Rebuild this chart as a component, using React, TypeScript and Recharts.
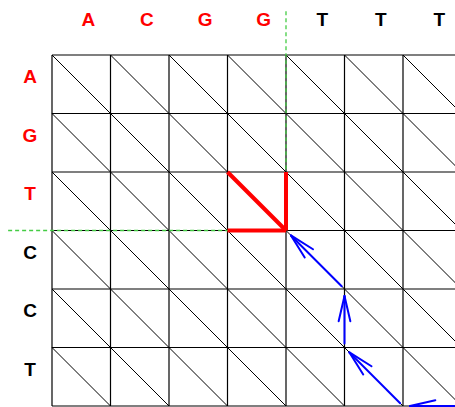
import { ComposedChart, XAxis, YAxis, ReferenceLine } from "recharts";

// sequences along the top and down the left side
const topSeq = ["A", "C", "G", "G", "T", "T", "T"];
const topRed = [true, true, true, true, false, false, false];
const leftSeq = ["A", "G", "T", "C", "C", "T"];
const leftRed = [true, true, true, false, false, false];

// red best-score step (grid nodes)
const redMoves = [
  { x1: 3, y1: 2, x2: 4, y2: 3 },
  { x1: 4, y1: 2, x2: 4, y2: 3 },
  { x1: 3, y1: 3, x2: 4, y2: 3 },
];

// blue traceback, node by node
const tracePath = [
  { x: 7, y: 6 },
  { x: 6, y: 6 },
  { x: 5, y: 5 },
  { x: 5, y: 4 },
  { x: 4, y: 3 },
];

// green guide lines through the split node
const splitNode = { x: 4, y: 3 };
const guideOverhang = 0.75;

const cols = topSeq.length;
const rows = leftSeq.length;
const colLines = Array.from({ length: cols + 1 }, (_, i) => i);
const rowLines = Array.from({ length: rows + 1 }, (_, i) => i);
const cells: { c: number; r: number }[] = [];
for (let r = 0; r < rows; r++) for (let c = 0; c < cols; c++) cells.push({ c, r });

const RED = "#ff0000";
const BLUE = "#0000ff";
const GREEN = "#44cc44";
const FONT = "'Liberation Sans', Arial, sans-serif";

const TopTick = (props: any) => {
  const i = props.index;
  return (
    <text x={props.x + 7} y={26} textAnchor="middle" fontFamily={FONT} fontWeight="bold" fontSize={19}
      fill={topRed[i] ? RED : "#000"}>
      {topSeq[i]}
    </text>
  );
};

const LeftTick = (props: any) => {
  const i = props.index;
  return (
    <text x={30} y={props.y - 1} textAnchor="middle" fontFamily={FONT} fontWeight="bold" fontSize={19}
      fill={leftRed[i] ? RED : "#000"}>
      {leftSeq[i]}
    </text>
  );
};

const Arrow = (props: any) => {
  const { x1, y1, x2, y2 } = props;
  const dx = x2 - x1;
  const dy = y2 - y1;
  const len = Math.sqrt(dx * dx + dy * dy) || 1;
  const ux = dx / len;
  const uy = dy / len;
  const sx = x1 + ux * 4;
  const sy = y1 + uy * 4;
  const tx = x2 - ux * 7;
  const ty = y2 - uy * 7;
  const head = 26;
  const a = (13 * Math.PI) / 180;
  const back = Math.atan2(-uy, -ux);
  const h1x = tx + head * Math.cos(back + a);
  const h1y = ty + head * Math.sin(back + a);
  const h2x = tx + head * Math.cos(back - a);
  const h2y = ty + head * Math.sin(back - a);
  return (
    <g stroke={BLUE} strokeWidth={2} fill="none" strokeLinecap="round">
      <line x1={sx} y1={sy} x2={tx} y2={ty} />
      <line x1={tx} y1={ty} x2={h1x} y2={h1y} />
      <line x1={tx} y1={ty} x2={h2x} y2={h2y} />
    </g>
  );
};

export default function App() {
  return (
    <div style={{ position: "absolute", left: 0, top: 0, width: 455, height: 407, overflow: "hidden" }}>
      <ComposedChart width={461.5} height={407} data={cells} margin={{ top: 0, left: 0, right: 0, bottom: 1 }}>
        <XAxis type="number" dataKey="c" orientation="top" domain={[0, cols]} height={55}
          ticks={topSeq.map((_, i) => i + 0.5)} interval={0} axisLine={false} tickLine={false} tick={<TopTick />} />
        <YAxis type="number" dataKey="r" domain={[0, rows]} reversed width={52}
          ticks={leftSeq.map((_, i) => i + 0.5)} interval={0} axisLine={false} tickLine={false} tick={<LeftTick />} />

        {cells.map(({ c, r }) => (
          <ReferenceLine key={`d${c}-${r}`} segment={[{ x: c, y: r }, { x: c + 1, y: r + 1 }]}
            stroke="#000" strokeWidth={1} ifOverflow="visible" />
        ))}
        {colLines.map((c) => (
          <ReferenceLine key={`c${c}`} x={c} stroke="#000" strokeWidth={1.2} ifOverflow="visible" />
        ))}
        {rowLines.map((r) => (
          <ReferenceLine key={`r${r}`} y={r} stroke="#000" strokeWidth={1.2} ifOverflow="visible" />
        ))}

        <ReferenceLine segment={[{ x: splitNode.x, y: -guideOverhang }, { x: splitNode.x, y: splitNode.y }]}
          stroke={GREEN} strokeWidth={1.3} strokeDasharray="4 3" ifOverflow="visible" />
        <ReferenceLine segment={[{ x: -guideOverhang, y: splitNode.y }, { x: splitNode.x, y: splitNode.y }]}
          stroke={GREEN} strokeWidth={1.3} strokeDasharray="4 3" ifOverflow="visible" />

        {redMoves.map((m, i) => (
          <ReferenceLine key={`red${i}`} segment={[{ x: m.x1, y: m.y1 }, { x: m.x2, y: m.y2 }]}
            stroke={RED} strokeWidth={4} ifOverflow="visible" />
        ))}

        {tracePath.slice(1).map((p, i) => (
          <ReferenceLine key={`tb${i}`} segment={[tracePath[i], p]} ifOverflow="visible" shape={Arrow} />
        ))}
      </ComposedChart>
    </div>
  );
}
